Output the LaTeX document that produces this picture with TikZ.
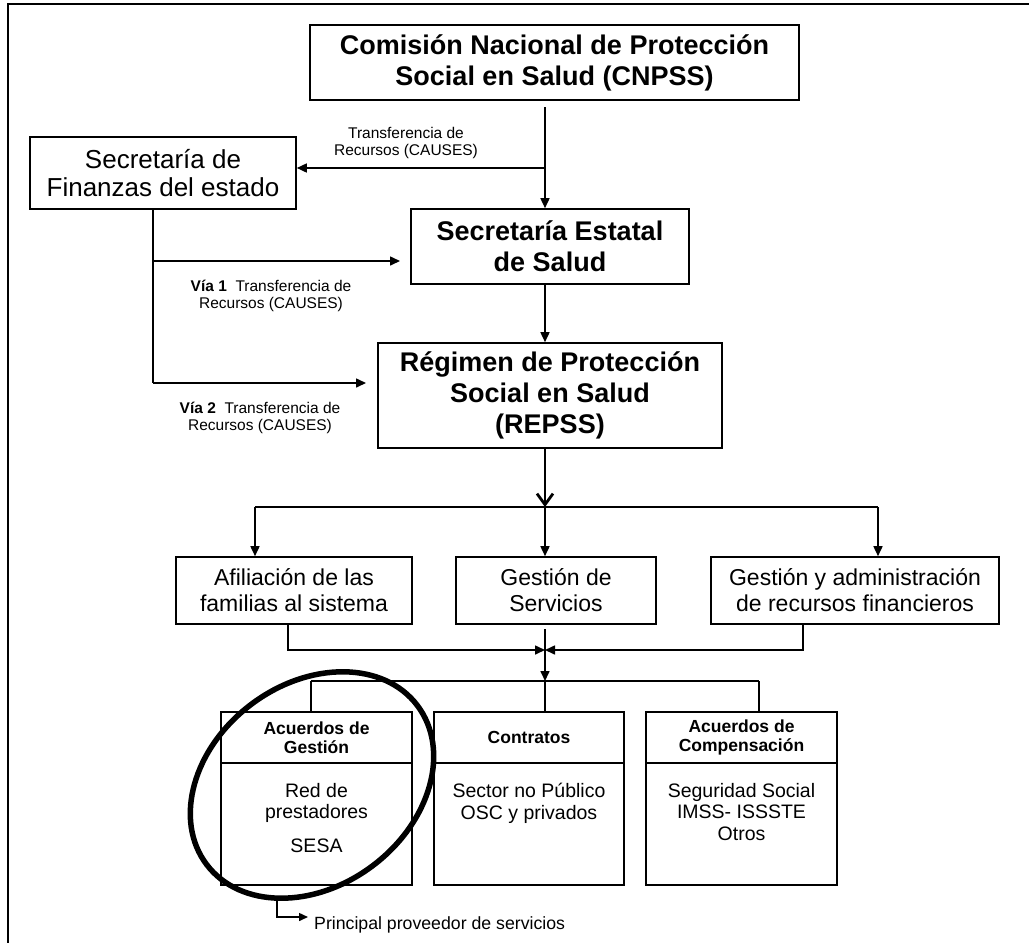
\documentclass[tikz,border=0pt]{standalone}
\usepackage{fontspec}
\setmainfont{Liberation Sans}
\usetikzlibrary{arrows.meta}
\begin{document}
\begin{tikzpicture}[x=1pt,y=-1pt,
  box/.style={draw, line width=1.6pt, inner sep=0pt, align=center},
  conn/.style={line width=1.6pt},
  arr/.style={conn, -{Triangle[length=10pt,width=9pt]}},
  bigarr/.style={line width=2.8pt, -{Straight Barb[length=11pt,width=16pt,line width=2.8pt]}},
  smallarr/.style={line width=1.5pt, -{Triangle[length=9pt,width=8pt]}},
  titlefont/.style={font=\fontsize{27}{31}\selectfont\bfseries},
  finfont/.style={font=\fontsize{26}{28.5}\selectfont},
  midfont/.style={font=\fontsize{23}{26}\selectfont},
  labelfont/.style={font=\fontsize{15.5}{17.5}\selectfont, align=center, inner sep=0pt},
  hdrfont/.style={font=\fontsize{17.5}{19}\selectfont\bfseries},
  bodyfont/.style={font=\fontsize{19.5}{21.5}\selectfont, align=center, inner sep=0pt},
]
\useasboundingbox (0,0) rectangle (1029,943);

% outer frame
\draw[line width=2.2pt] (8,943) -- (8,4) -- (1029,4);

% upper chain
\node[box, titlefont, minimum width=489pt, minimum height=75pt] (cnpss) at (554.5,62.5)
  {Comisión Nacional de Protección\\Social en Salud (CNPSS)};
\node[box, finfont, minimum width=266pt, minimum height=72pt] (fin) at (163,173)
  {Secretaría de\\Finanzas del estado};
\node[box, titlefont, minimum width=278pt, minimum height=75pt] (ses) at (550,246.5)
  {Secretaría Estatal\\de Salud};
\node[box, titlefont, minimum width=344pt, minimum height=105pt] (repss) at (550,395.5)
  {Régimen de Protección\\Social en Salud\\(REPSS)};

% functions
\node[box, midfont, minimum width=236pt, minimum height=67pt] (afil) at (294,590.5)
  {Afiliación de las\\familias al sistema};
\node[box, midfont, minimum width=200pt, minimum height=67pt] (gserv) at (556,590.5)
  {Gestión de\\Servicios};
\node[box, midfont, minimum width=288pt, minimum height=67pt] (gadm) at (855,590.5)
  {Gestión y administración\\de recursos financieros};

% agreement boxes: header and body
\node[box, hdrfont, minimum width=191pt, minimum height=51pt] (acgh) at (316.5,737.5)
  {Acuerdos de\\Gestión};
\node[box, minimum width=191pt, minimum height=122pt] (acgb) at (316.5,824) {};
\node[box, hdrfont, minimum width=190pt, minimum height=51pt] (conh) at (529,737.5)
  {Contratos};
\node[box, minimum width=190pt, minimum height=122pt] (conb) at (529,824) {};
\node[box, hdrfont, minimum width=191pt, minimum height=51pt] (acch) at (741.5,737.5)
  {Acuerdos de\\Compensación};
\node[box, minimum width=191pt, minimum height=122pt] (accb) at (741.5,824) {};

\node[bodyfont, anchor=north] (acgt) at (316.5,783) {Red de\\prestadores\\[12pt]SESA};
\node[bodyfont, anchor=north] (cont) at (529,783) {Sector no Público\\OSC y privados};
\node[bodyfont, anchor=north] (acct) at (741.5,783) {Seguridad Social\\IMSS- ISSSTE\\Otros};

% transfer labels
\node[labelfont] (t0) at (406,143) {Transferencia de\\Recursos (CAUSES)};
\node[labelfont] (t1) at (271,296) {\textbf{Vía 1}\ \ Transferencia de\\Recursos (CAUSES)};
\node[labelfont] (t2) at (260,418) {\textbf{Vía 2}\ \ Transferencia de\\Recursos (CAUSES)};

% connector points
\coordinate (c0) at (545,107);
\coordinate (c1) at (545,168);
\coordinate (f1) at (153,209);
\coordinate (f2) at (153,383);
\coordinate (v1) at (400,261);
\coordinate (v2) at (366,383);
\coordinate (bm) at (545,507);
\coordinate (bl) at (255,507);
\coordinate (br) at (878,507);
\coordinate (ja) at (288,650);
\coordinate (jg) at (803,650);
\coordinate (m)  at (545,650);
\coordinate (g0) at (545,629);
\coordinate (g1) at (545,681);
\coordinate (l2) at (311,681);
\coordinate (r2) at (759,681);
\coordinate (p0) at (277,900);
\coordinate (p1) at (308,917);

% CNPSS to state offices
\draw[arr] (c0) -- (ses.north -| c0);
\draw[arr] (c1) -- (fin.east |- c1);
\draw[conn] (fin.south -| f1) -- (f2);
\draw[arr] (f1 |- v1) -- (v1);
\draw[arr] (f2) -- (v2);
\draw[arr] (ses.south -| c0) -- (repss.north -| c0);

% REPSS to its functions
\draw[bigarr] (repss.south -| c0) -- (bm);
\draw[conn] (bl) -- (br);
\draw[arr] (bl) -- (afil.north -| bl);
\draw[arr] (bm) -- (gserv.north -| bm);
\draw[arr] (br) -- (gadm.north -| br);

% functions to agreements
\draw[arr] (afil.south -| ja) -- (ja) -- (m);
\draw[arr] (gadm.south -| jg) -- (jg) -- (m);
\draw[arr] (g0) -- (g1);
\draw[conn] (l2) -- (r2);
\draw[conn] (l2) -- (acgh.north -| l2);
\draw[conn] (g1) -- (conh.north -| g1);
\draw[conn] (r2) -- (acch.north -| r2);

% highlight around the SESA network
\begin{scope}[shift={(312,785)}, rotate=37]
  \draw[line width=5.5pt] (0,0) ellipse [x radius=132pt, y radius=101pt];
\end{scope}

% main provider note
\node[anchor=base west, inner sep=0pt, font=\fontsize{17.7}{20}\selectfont] (prin) at (314,929)
  {Principal proveedor de servicios};
\draw[smallarr] (p0) |- (p1);
\end{tikzpicture}
\end{document}
